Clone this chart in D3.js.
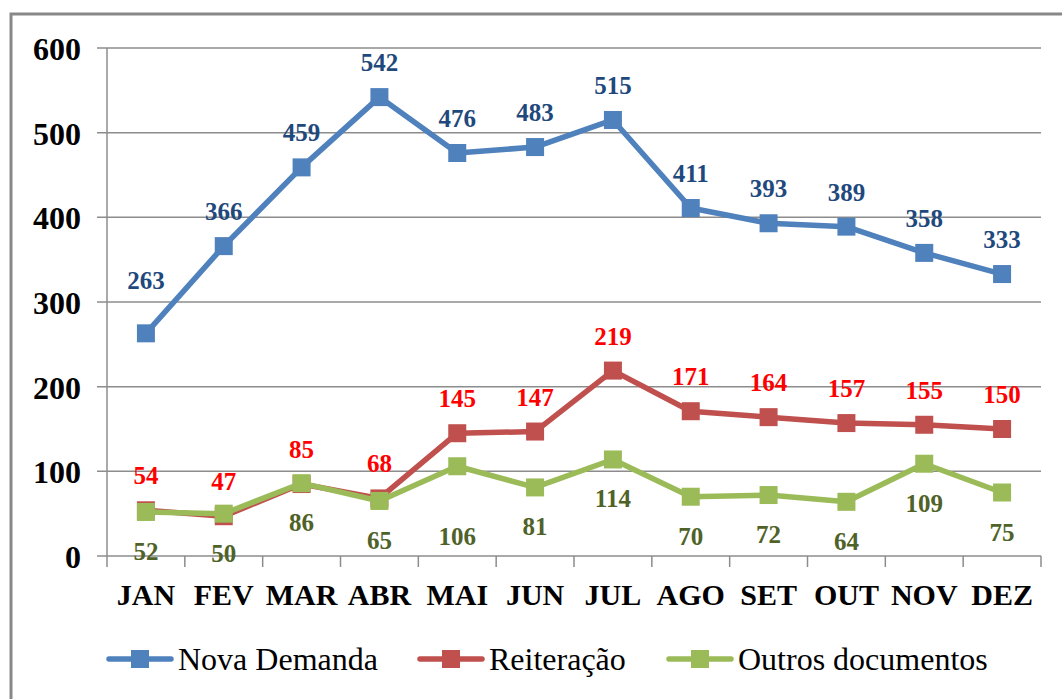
<!DOCTYPE html>
<html><head><meta charset="utf-8">
<script src="https://cdn.jsdelivr.net/npm/d3@7"></script>
<style>body{margin:0;background:#fff}svg{display:block}</style>
</head><body>
<script>
const months = ["JAN","FEV","MAR","ABR","MAI","JUN","JUL","AGO","SET","OUT","NOV","DEZ"];
const novaDemanda = [263,366,459,542,476,483,515,411,393,389,358,333];
const reiteracao = [54,47,85,68,145,147,219,171,164,157,155,150];
const outros = [52,50,86,65,106,81,114,70,72,64,109,75];
const yTicks = [0,100,200,300,400,500,600];
const seriesNames = ["Nova Demanda","Reiteração","Outros documentos"];

const W=1062,H=699;
const svg=d3.select("body").append("svg").attr("width",W).attr("height",H);
svg.append("rect").attr("x",11).attr("y",14).attr("width",1060).attr("height",700)
  .attr("fill","#fff").attr("stroke","#888").attr("stroke-width",3);

const x=d3.scaleBand().domain(months).range([107,1041]);
const y=d3.scaleLinear().domain([0,600]).range([556,48]);
const serif="Liberation Serif";

// gridlines
svg.append("g").selectAll("line").data(yTicks).join("line")
  .attr("x1",97).attr("x2",1041).attr("y1",d=>y(d)).attr("y2",d=>y(d))
  .attr("stroke","#8c8c8c").attr("stroke-width",1.5);
// y axis line
svg.append("line").attr("x1",107).attr("x2",107).attr("y1",48).attr("y2",556)
  .attr("stroke","#8c8c8c").attr("stroke-width",1.5);
// x ticks
const bounds=months.map(m=>x(m)).concat([x.range()[1]]);
svg.append("g").selectAll("line").data(bounds).join("line")
  .attr("x1",d=>d).attr("x2",d=>d).attr("y1",556).attr("y2",567)
  .attr("stroke","#8c8c8c").attr("stroke-width",1.5);
// y labels
svg.append("g").selectAll("text").data(yTicks).join("text")
  .attr("x",81).attr("y",d=>y(d)+12).attr("text-anchor","end")
  .style("font-family",serif).style("font-weight","bold").style("font-size","32px")
  .text(d=>d);
// x labels
svg.append("g").selectAll("text").data(months).join("text")
  .attr("x",d=>x(d)+x.bandwidth()/2).attr("y",605).attr("text-anchor","middle")
  .style("font-family",serif).style("font-weight","bold").style("font-size","30px")
  .text(d=>d);

const series=[
  {name:seriesNames[0],values:novaDemanda,color:"#4F81BD",label:"#1F497D",dy:-26},
  {name:seriesNames[1],values:reiteracao,color:"#C0504D",label:"#FF0000",dy:-26},
  {name:seriesNames[2],values:outros,color:"#9BBB59",label:"#4F6228",dy:48}
];
const nudge={"0-0":-18,"2-4":31};
const line=d3.line().x((d,i)=>x(months[i])+x.bandwidth()/2).y(d=>y(d));
series.forEach((s,si)=>{
  const g=svg.append("g");
  g.append("path").datum(s.values).attr("d",line).attr("fill","none")
    .attr("stroke",s.color).attr("stroke-width",5.5).attr("stroke-linejoin","round");
  g.selectAll("rect").data(s.values).join("rect")
    .attr("x",(d,i)=>x(months[i])+x.bandwidth()/2-9).attr("y",d=>y(d)-9)
    .attr("width",18).attr("height",18).attr("fill",s.color);
  g.selectAll("text").data(s.values).join("text")
    .attr("x",(d,i)=>x(months[i])+x.bandwidth()/2)
    .attr("y",(d,i)=>y(d)+s.dy+(nudge[si+"-"+i]||0))
    .attr("text-anchor","middle").style("font-family",serif).style("font-weight","bold")
    .style("font-size","25px").attr("fill",s.label).text(d=>d);
});

// legend
const legX=[107,418,667];
series.forEach((s,i)=>{
  const g=svg.append("g").attr("transform",`translate(${legX[i]},659)`);
  g.append("line").attr("x1",2).attr("x2",64).attr("y1",0).attr("y2",0)
    .attr("stroke",s.color).attr("stroke-width",5.5).attr("stroke-linecap","round");
  g.append("rect").attr("x",24).attr("y",-9).attr("width",18).attr("height",18).attr("fill",s.color);
  g.append("text").attr("x",71).attr("y",11)
    .style("font-family",serif).style("font-size","32px").attr("fill","#000").text(s.name);
});
</script>
</body></html>
